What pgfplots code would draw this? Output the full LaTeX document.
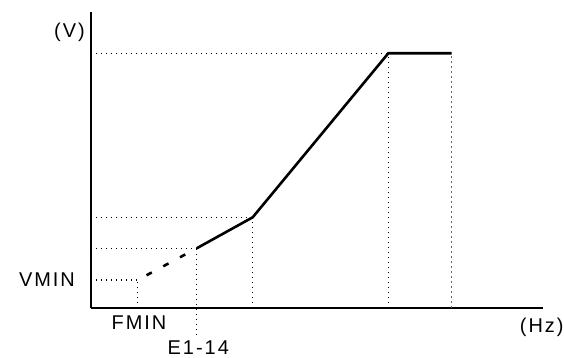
\documentclass[border=0pt]{standalone}
\usepackage{fontspec}
\setmainfont{Liberation Sans}
\usepackage{pgfplots}
\pgfplotsset{compat=1.18}
\tikzset{lbl/.style={font=\fontsize{20}{22}\selectfont\addfontfeature{LetterSpace=10}, inner sep=0pt, anchor=center}}
\begin{document}
\begin{tikzpicture}
\begin{axis}[
  at={(0,0)}, anchor=origin,
  x=1bp, y=1bp,
  xmin=0, xmax=451.7, ymin=0, ymax=296,
  axis lines=left,
  axis line style={line width=1.7bp, -},
  xtick=\empty, ytick=\empty,
  enlargelimits=false,
  clip=false,
]
% dotted guide lines
\addplot[black, line width=1.3bp, dash pattern=on 1.3bp off 3.7bp] coordinates {(0,254.7) (297.3,254.7)};
\addplot[black, line width=1.3bp, dash pattern=on 1.3bp off 3.7bp] coordinates {(0,90.7) (161.7,90.7)};
\addplot[black, line width=1.3bp, dash pattern=on 1.3bp off 3.7bp] coordinates {(0,59.7) (105.7,59.7)};
\addplot[black, line width=1.3bp, dash pattern=on 1.3bp off 3.7bp] coordinates {(0,28) (46.7,28)};
\addplot[black, line width=1.3bp, dash pattern=on 1.3bp off 3.7bp] coordinates {(46.7,0) (46.7,28)};
\addplot[black, line width=1.3bp, dash pattern=on 1.3bp off 3.7bp] coordinates {(105.7,-27) (105.7,59.7)};
\addplot[black, line width=1.3bp, dash pattern=on 1.3bp off 3.7bp] coordinates {(161.7,0) (161.7,90.7)};
\addplot[black, line width=1.3bp, dash pattern=on 1.3bp off 3.7bp] coordinates {(297.3,0) (297.3,254.7)};
\addplot[gray!80!black, line width=1.3bp, dash pattern=on 1.6bp off 3.4bp] coordinates {(360.7,0) (360.7,254.7)};
% dashed low segment
\addplot[black, line width=2.6bp, dash pattern=on 6bp off 13bp, dash phase=9bp] coordinates {(46.7,28) (105.7,59.7)};
% V/f curve
\addplot[black, line width=2.6bp] coordinates {(105.7,59.7) (161.7,90.7) (297.3,254.7) (360.7,254.7)};
% labels
\node[lbl] at (axis cs:-21.5,275.5) {(V)};
\node[lbl] at (axis cs:-44,28.5) {VMIN};
\node[lbl] at (axis cs:48,-14.5) {FMIN};
\node[lbl] at (axis cs:107.3,-39.5) {E1-14};
\node[lbl] at (axis cs:450.7,-19) {(Hz)};
\end{axis}
\pgfresetboundingbox
\path (-91bp,-50bp) rectangle (473bp,308bp);
\end{tikzpicture}
\end{document}
